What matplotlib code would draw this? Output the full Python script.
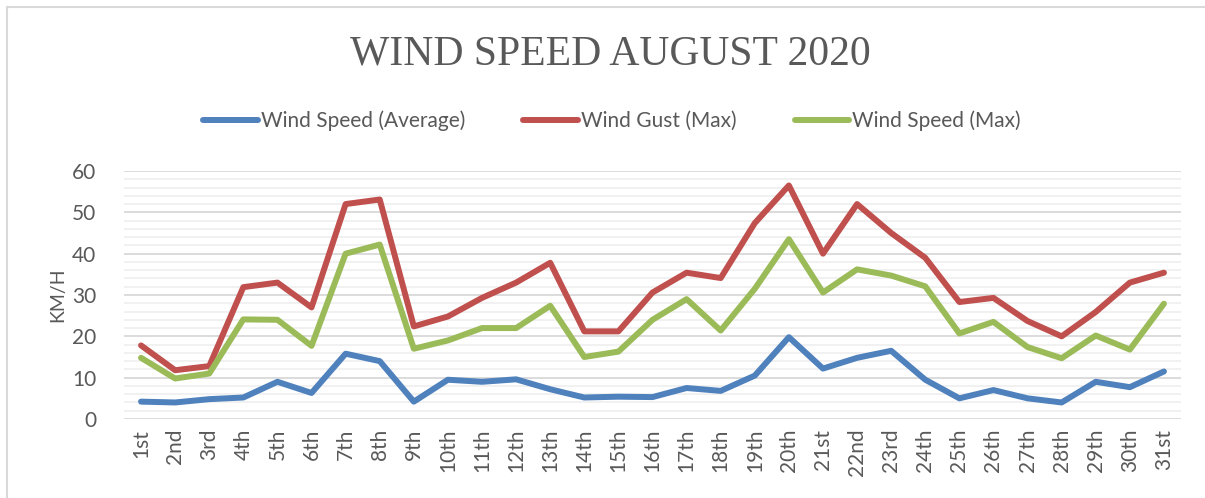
import matplotlib
matplotlib.use("Agg")
import matplotlib.pyplot as plt
from matplotlib.patches import Rectangle
from matplotlib.ticker import MultipleLocator

# days of August 2020
days = ["1st", "2nd", "3rd", "4th", "5th", "6th", "7th", "8th", "9th", "10th",
        "11th", "12th", "13th", "14th", "15th", "16th", "17th", "18th", "19th", "20th",
        "21st", "22nd", "23rd", "24th", "25th", "26th", "27th", "28th", "29th", "30th", "31st"]

wind_avg = [4.2, 4.0, 4.8, 5.2, 9.0, 6.3, 15.8, 14.0, 4.2, 9.5,
            9.0, 9.6, 7.2, 5.2, 5.4, 5.3, 7.5, 6.8, 10.5, 19.8,
            12.2, 14.8, 16.5, 9.5, 5.0, 7.0, 5.0, 4.0, 9.0, 7.7, 11.5]

gust_max = [17.8, 11.8, 12.8, 31.9, 33.0, 27.0, 52.0, 53.1, 22.4, 24.8,
            29.3, 33.0, 37.8, 21.2, 21.2, 30.6, 35.4, 34.1, 47.4, 56.5,
            40.0, 52.0, 45.0, 39.0, 28.3, 29.3, 23.7, 20.0, 25.9, 33.0, 35.4]

wind_max = [14.8, 9.8, 11.0, 24.1, 24.0, 17.7, 40.0, 42.2, 17.0, 19.0,
            22.0, 22.0, 27.4, 15.0, 16.3, 24.0, 29.0, 21.4, 31.5, 43.5,
            30.6, 36.2, 34.7, 32.1, 20.7, 23.5, 17.4, 14.7, 20.2, 16.8, 27.9]

series = [("Wind Speed (Average)", wind_avg, "#4F81BD"),
          ("Wind Gust (Max)", gust_max, "#C0504D"),
          ("Wind Speed (Max)", wind_max, "#9BBB59")]

TXT = "#595959"
SANS = ["Lato", "DejaVu Sans"]

fig = plt.figure(figsize=(12.05, 4.98), dpi=100)
W, H = 1205, 498
ax = fig.add_axes([124 / W, 1 - 419 / H, (1181 - 124) / W, (419 - 171) / H])

x = list(range(1, len(days) + 1))
for name, vals, col in series:
    ax.plot(x, vals, color=col, lw=4.3, label=name,
            solid_capstyle="round", solid_joinstyle="round", zorder=3)

ax.set_xlim(0.5, len(days) + 0.5)
ax.set_ylim(0, 60)
ax.yaxis.set_major_locator(MultipleLocator(10))
ax.yaxis.set_minor_locator(MultipleLocator(2))
ax.grid(which="major", axis="y", color="#D9D9D9", lw=1.3, zorder=0)
ax.grid(which="minor", axis="y", color="#F0F0F0", lw=1.3, zorder=0)
ax.set_xticks(x)
ax.set_xticklabels(days, rotation=90, family=SANS, fontsize=15, color=TXT)
for lab in ax.get_yticklabels():
    lab.set_family(SANS)
ax.tick_params(axis="y", labelsize=15, labelcolor=TXT, length=0, which="both", pad=20)
ax.tick_params(axis="x", length=0, pad=7)
for s in ax.spines.values():
    s.set_visible(False)
ax.set_ylabel("KM/H", family=SANS, fontsize=14, color=TXT, labelpad=4)

fig.text(610 / W, 1 - 54 / H, "WIND SPEED AUGUST 2020", ha="center", va="center",
         family="Liberation Serif", fontsize=30, color=TXT)

leg = fig.legend(loc="center", bbox_to_anchor=(612 / W, 1 - 121 / H), ncol=3,
                 frameon=False, handlelength=2.6, handletextpad=0.15,
                 columnspacing=2.8, prop={"family": SANS, "size": 15})
for t in leg.get_texts():
    t.set_color(TXT)

# chart border
fig.patches.append(Rectangle((7 / W, -0.05), 1.1, 1 - 7 / H + 0.05, transform=fig.transFigure,
                             fill=False, edgecolor="#D9D9D9", lw=1.5))

fig.savefig("out.png", dpi=100)
